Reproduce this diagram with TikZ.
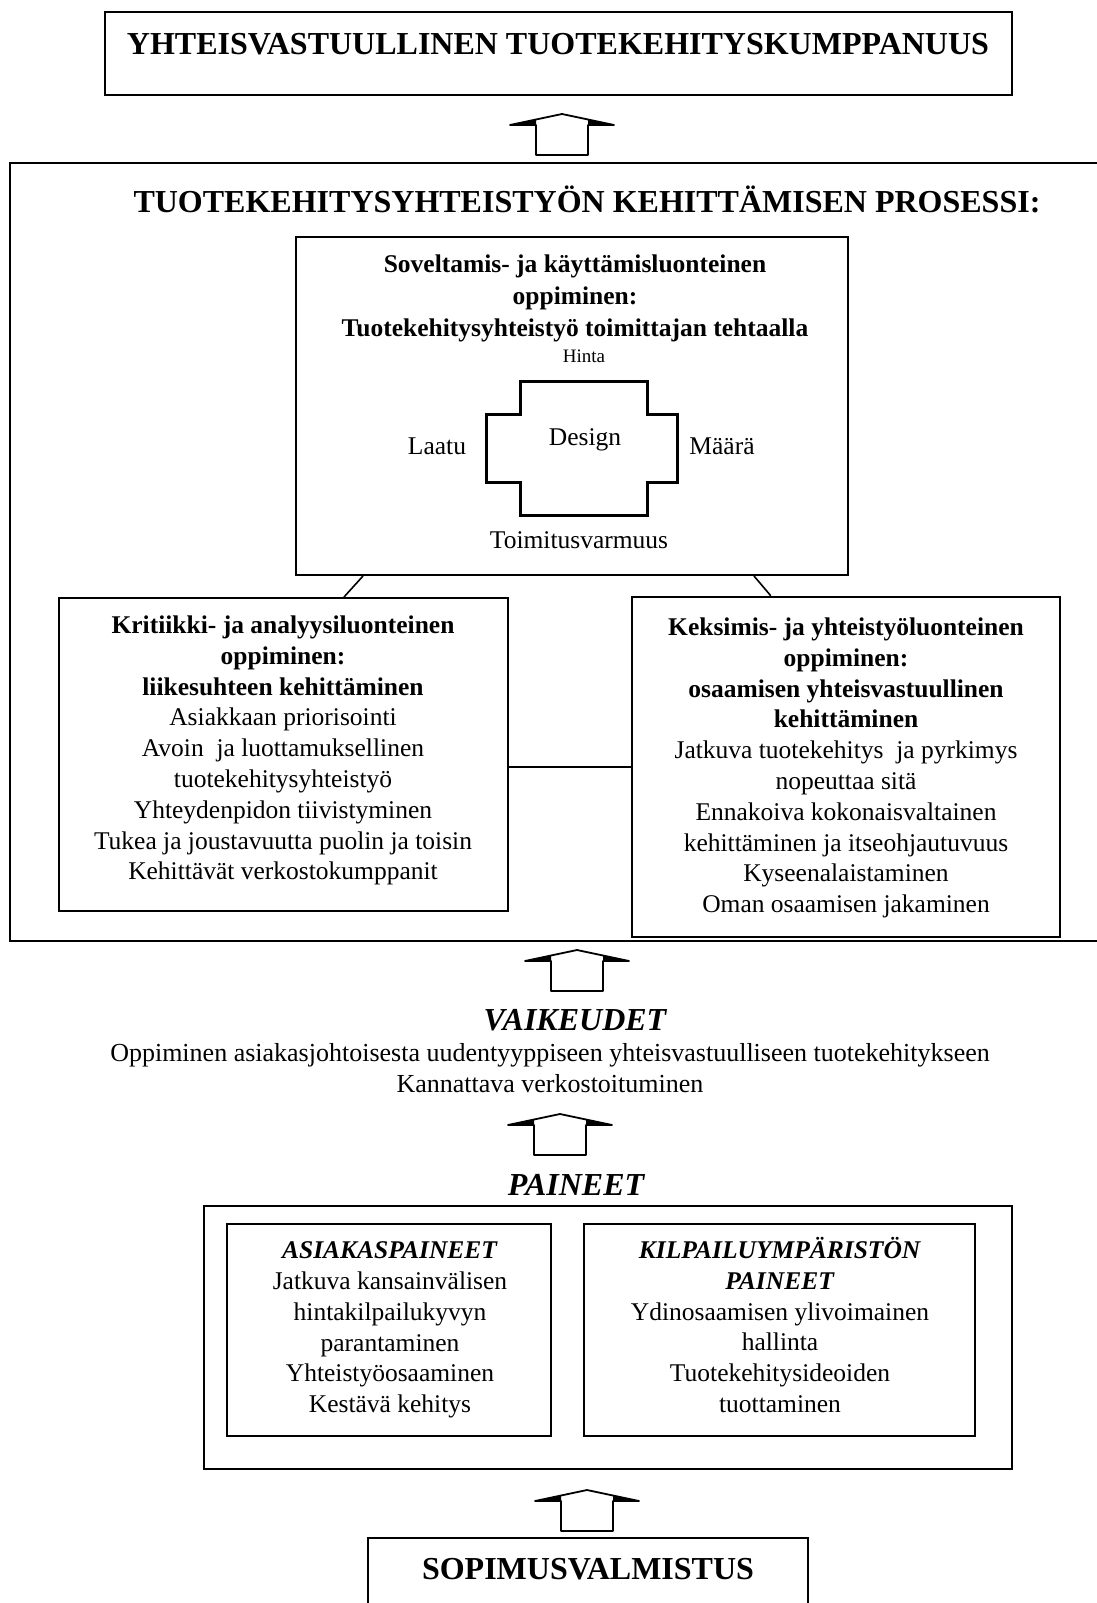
\documentclass[tikz,border=0pt]{standalone}
\usepackage{fontspec}
\setmainfont{Liberation Serif}
\usetikzlibrary{calc}

\newcommand\bodysize{\fontsize{25.5}{30.8}\selectfont}
\newcommand\headsize{\fontsize{32}{38}\selectfont}

\tikzset{
  box/.style={draw, line width=2pt, inner sep=0pt},
  thinbox/.style={draw, line width=1.5pt, inner sep=0pt},
  bodytxt/.style={inner sep=0pt, align=center, font=\bodysize},
  headtxt/.style={inner sep=0pt, align=center, font=\headsize\bfseries},
  headital/.style={inner sep=0pt, align=center, font=\headsize\bfseries\itshape},
  link/.style={line width=1.6pt},
  uparrow/.pic={
    \fill (-52,11) -- (-26,5.5) -- (-26,11) -- cycle;
    \fill (52,11) -- (26,5.5) -- (26,11) -- cycle;
    \draw[line width=1.8pt, line join=round]
      (-52,11) -- (0,0) -- (52,11) -- (26,11) -- (26,41)
      -- (-26,41) -- (-26,11) -- cycle;
  }
}

\begin{document}
\begin{tikzpicture}[x=1pt, y=-1pt]
\useasboundingbox (0,0) rectangle (1097,1603);

% goal at the top
\node[thinbox, minimum width=907pt, minimum height=83pt] (goal) at (558.5,53.5) {};
\node[headtxt] (goaltxt) at (558,44) {YHTEISVASTUULLINEN TUOTEKEHITYSKUMPPANUUS};

\pic at (562,114) {uparrow};

% development process frame (open to the right)
\draw[line width=2pt] (1100,163) -- (10,163) -- (10,941) -- (1100,941);
\node[headtxt] (proctitle) at (587,199) {TUOTEKEHITYSYHTEISTYÖN KEHITTÄMISEN PROSESSI:};

% applying and using
\node[box, minimum width=552pt, minimum height=338pt] (sov) at (572,406) {};
\node[bodytxt, font=\fontsize{25.5}{31.7}\selectfont] (sovtxt) at (575,298.5)
  {\textbf{Soveltamis- ja käyttämisluonteinen}\\
   \textbf{oppiminen:}\\
   \textbf{Tuotekehitysyhteistyö toimittajan tehtaalla}};
\node[inner sep=0pt, font=\fontsize{19}{22}\selectfont] (hinta) at (584,356) {Hinta};
\draw[line width=3pt, line join=miter]
  (520,381) -- (647,381) -- (647,414) -- (677,414) -- (677,482) -- (647,482)
  -- (647,515) -- (520,515) -- (520,482) -- (486,482) -- (486,414) -- (520,414) -- cycle;
\node[bodytxt] (design) at (585,440) {Design};
\node[bodytxt] (laatu) at (437,446) {Laatu};
\node[bodytxt] (maara) at (722,446) {Määrä};
\node[bodytxt] (toimitus) at (579,540) {Toimitusvarmuus};

% critique and analysis
\node[box, minimum width=449pt, minimum height=313pt] (krit) at (283.5,754.5) {};
\node[bodytxt] (krittxt) at (283,750.5)
  {\textbf{Kritiikki- ja analyysiluonteinen}\\
   \textbf{oppiminen:}\\
   \textbf{liikesuhteen kehittäminen}\\
   Asiakkaan priorisointi\\
   Avoin\ \ ja luottamuksellinen\\
   tuotekehitysyhteistyö\\
   Yhteydenpidon tiivistyminen\\
   Tukea ja joustavuutta puolin ja toisin\\
   Kehittävät verkostokumppanit};

% invention and cooperation
\node[draw, line width=2.5pt, inner sep=0pt, minimum width=428pt, minimum height=340pt] (kek) at (846,767) {};
\node[bodytxt] (kektxt) at (846,768)
  {\textbf{Keksimis- ja yhteistyöluonteinen}\\
   \textbf{oppiminen:}\\
   \textbf{osaamisen yhteisvastuullinen}\\
   \textbf{kehittäminen}\\
   Jatkuva tuotekehitys\ \ ja pyrkimys\\
   nopeuttaa sitä\\
   Ennakoiva kokonaisvaltainen\\
   kehittäminen ja itseohjautuvuus\\
   Kyseenalaistaminen\\
   Oman osaamisen jakaminen};

\draw[link] ($(sov.south west)+(68,0)$) -- ($(krit.north west)+(286,0)$);
\draw[link] ($(sov.south east)+(-95,0)$) -- ($(kek.north west)+(140,0)$);
\draw[link] (krit.east |- kek.west) -- (kek.west);

\pic at (577,950) {uparrow};

% difficulties
\node[headital] (vaik) at (575,1020) {VAIKEUDET};
\node[bodytxt, font=\fontsize{26}{31}\selectfont] (vaiktxt) at (550,1068)
  {Oppiminen asiakasjohtoisesta uudentyyppiseen yhteisvastuulliseen tuotekehitykseen\\
   Kannattava verkostoituminen};

\pic at (560,1114) {uparrow};

% pressures
\node[headital] (pain) at (576,1185) {PAINEET};
\node[draw, line width=2.5pt, inner sep=0pt, minimum width=808pt, minimum height=263pt] (painbox) at (608,1337.5) {};
\node[thinbox, minimum width=324pt, minimum height=212pt] (asiak) at (389,1330) {};
\node[bodytxt] (asiaktxt) at (390,1330)
  {\textbf{\textit{ASIAKASPAINEET}}\\
   Jatkuva kansainvälisen\\
   hintakilpailukyvyn\\
   parantaminen\\
   Yhteistyöosaaminen\\
   Kestävä kehitys};
\node[thinbox, minimum width=391pt, minimum height=212pt] (kilp) at (779.5,1330) {};
\node[bodytxt] (kilptxt) at (780,1325)
  {\textbf{\textit{KILPAILUYMPÄRISTÖN}}\\
   \textbf{\textit{PAINEET}}\\
   Ydinosaamisen ylivoimainen\\
   hallinta\\
   Tuotekehitysideoiden\\
   tuottaminen};

\pic at (587,1490) {uparrow};

% contract manufacturing (runs off the lower edge)
\draw[line width=1.6pt] (368,1610) -- (368,1538) -- (808,1538) -- (808,1610);
\node[headtxt] (sopim) at (588,1569) {SOPIMUSVALMISTUS};

\end{tikzpicture}
\end{document}
